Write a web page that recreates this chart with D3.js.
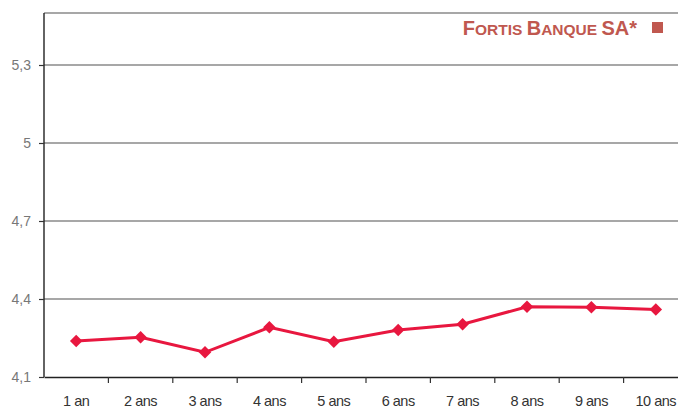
<!DOCTYPE html>
<html>

<head>
    <meta charset='utf-8'>
    <title>Fortis Banque SA</title>
    <script type="text/javascript" src="https://cdnjs.cloudflare.com/ajax/libs/d3/7.8.5/d3.min.js"></script>
    <style>
        body { margin: 0; background: #fff; }
    </style>
</head>

<body>
    <script>
        const categories = ["1 an", "2 ans", "3 ans", "4 ans", "5 ans", "6 ans", "7 ans", "8 ans", "9 ans", "10 ans"];
        const rates = [4.238, 4.253, 4.195, 4.291, 4.236, 4.281, 4.303, 4.370, 4.368, 4.360];
        const yTicks = [4.1, 4.4, 4.7, 5, 5.3];
        const gridValues = [4.4, 4.7, 5, 5.3, 5.5];

        const w = 678;
        const h = 408;
        const plotLeft = 44, plotTop = 13, plotBottom = 377, plotRight = 688;

        const xScale = d3.scaleBand()
            .domain(categories)
            .range([plotLeft, plotRight]);
        const yScale = d3.scaleLinear()
            .domain([4.1, 5.5])
            .range([plotBottom, plotTop]);

        const svg = d3.select("body")
            .append("svg")
            .attr("width", w)
            .attr("height", h);

        // grid lines
        svg.selectAll("line.grid")
            .data(gridValues)
            .enter()
            .append("line")
            .attr("class", "grid")
            .attr("x1", plotLeft)
            .attr("x2", w)
            .attr("y1", d => yScale(d))
            .attr("y2", d => yScale(d))
            .attr("stroke", "#8a8a8a")
            .attr("stroke-width", 1.6);

        // y axis
        const yAxis = d3.axisLeft(yScale)
            .tickValues(yTicks)
            .tickSize(5)
            .tickFormat(d => String(d).replace(".", ","));
        const gy = svg.append("g")
            .attr("transform", "translate(" + plotLeft + ",0)")
            .call(yAxis);
        gy.select(".domain").attr("stroke", "#222").attr("stroke-width", 1.4)
            .attr("d", "M0," + plotBottom + "V" + plotTop);
        gy.selectAll(".tick line").attr("stroke", "#333").attr("stroke-width", 1.2);
        gy.selectAll(".tick text")
            .attr("x", -13)
            .attr("fill", "#777")
            .style("font-family", "'Liberation Sans', Arial, sans-serif")
            .style("font-size", "14px");

        // x axis
        const xAxis = d3.axisBottom(xScale).tickSize(0).tickSizeOuter(0);
        const gx = svg.append("g")
            .attr("transform", "translate(0," + plotBottom + ")")
            .call(xAxis);
        gx.select(".domain").attr("stroke", "#222").attr("stroke-width", 1.4);
        gx.selectAll(".tick text")
            .attr("y", 19)
            .attr("fill", "#333")
            .style("font-family", "'Liberation Sans Narrow', 'Liberation Sans', Arial, sans-serif")
            .style("font-size", "14.5px")
            .style("letter-spacing", "-0.5px");

        // band boundary ticks
        svg.selectAll("line.xtick")
            .data(categories.slice(1))
            .enter()
            .append("line")
            .attr("class", "xtick")
            .attr("x1", d => xScale(d))
            .attr("x2", d => xScale(d))
            .attr("y1", plotBottom)
            .attr("y2", plotBottom + 6)
            .attr("stroke", "#333")
            .attr("stroke-width", 1.2);

        // series line
        const cx = i => xScale(categories[i]) + xScale.bandwidth() / 2;
        const line = d3.line()
            .x((d, i) => cx(i))
            .y(d => yScale(d));
        svg.append("path")
            .datum(rates)
            .attr("d", line)
            .attr("fill", "none")
            .attr("stroke", "#e8173f")
            .attr("stroke-width", 3);

        svg.selectAll("path.marker")
            .data(rates)
            .enter()
            .append("path")
            .attr("class", "marker")
            .attr("d", d3.symbol().type(d3.symbolSquare).size(78))
            .attr("transform", (d, i) => "translate(" + cx(i) + "," + yScale(d) + ") rotate(45)")
            .attr("fill", "#e8173f");

        // legend
        const legend = svg.append("text")
            .attr("x", 637)
            .attr("y", 35)
            .attr("text-anchor", "end")
            .attr("fill", "#c0584f")
            .style("font-family", "'Liberation Sans', Arial, sans-serif")
            .style("font-weight", "bold");
        const parts = [["F", 20], ["ORTIS ", 15.5], ["B", 20], ["ANQUE ", 15.5], ["SA*", 20]];
        parts.forEach(p => {
            legend.append("tspan").text(p[0]).style("font-size", p[1] + "px");
        });
        svg.append("rect")
            .attr("x", 652)
            .attr("y", 22)
            .attr("width", 11)
            .attr("height", 11)
            .attr("fill", "#c0584f");
    </script>
</body>

</html>
